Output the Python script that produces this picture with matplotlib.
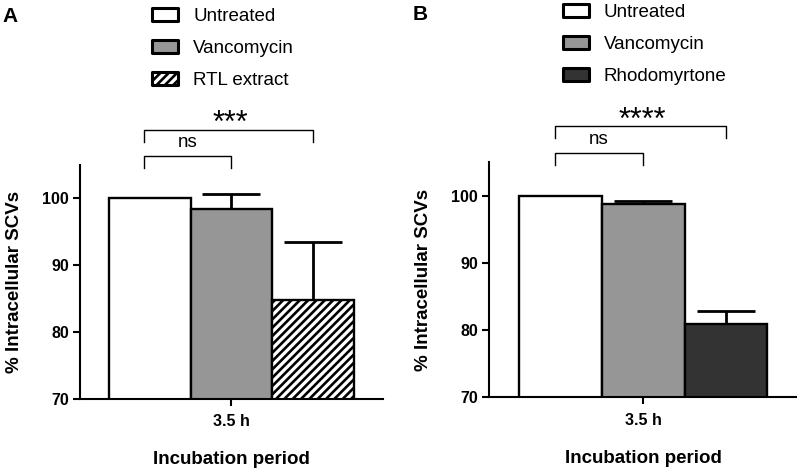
import matplotlib
matplotlib.use("Agg")
import matplotlib.pyplot as plt

plt.rcParams["font.family"] = ["Liberation Sans", "DejaVu Sans"]
plt.rcParams["hatch.linewidth"] = 1.9

# panel A
labels_a = ["Untreated", "Vancomycin", "RTL extract"]
values_a = [100.0, 98.4, 84.8]
errors_a = [0.0, 2.3, 8.7]

# panel B
labels_b = ["Untreated", "Vancomycin", "Rhodomyrtone"]
values_b = [100.0, 98.7, 80.9]
errors_b = [0.0, 0.5, 2.0]

group_label = "3.5 h"
yticks = [70, 80, 90, 100]

colors_a = ["white", "#969696", "white"]
hatches_a = [None, None, "////"]
colors_b = ["white", "#969696", "#333333"]
hatches_b = [None, None, None]

fig = plt.figure(figsize=(7.97, 4.71), dpi=100)
ax_a = fig.add_axes([0.1004, 0.1529, 0.380, 0.4968])
ax_b = fig.add_axes([0.614, 0.1565, 0.386, 0.4996])


def draw_panel(ax, labels, values, errors, colors, hatches, stars, leg_xy):
    xs = [-1, 0, 1]
    handles = []
    for x, v, e, c, h, lab in zip(xs, values, errors, colors, hatches, labels):
        b = ax.bar(x, v, width=1.0, color=c, edgecolor="black",
                   linewidth=1.7, hatch=h, label=lab, zorder=2)
        handles.append(b)
        if e > 0:
            ax.errorbar(x, v, yerr=[[0], [e]], fmt="none", ecolor="black",
                        elinewidth=2, capsize=21, capthick=2, zorder=1)

    ax.set_xlim(-1.86, 1.86)
    ax.set_ylim(70, 105)
    ax.set_yticks(yticks)
    ax.set_xticks([0])
    ax.set_xticklabels([group_label])
    for s in ["top", "right"]:
        ax.spines[s].set_visible(False)
    for s in ["left", "bottom"]:
        ax.spines[s].set_linewidth(1.5)
    ax.tick_params(direction="out", length=5, width=1.5, labelsize=11.5, pad=3)
    ax.tick_params(axis="x", pad=6)
    for t in ax.get_xticklabels() + ax.get_yticklabels():
        t.set_fontweight("bold")

    ax.set_ylabel("% Intracellular SCVs", fontsize=13.5, fontweight="bold")
    ax.set_xlabel("Incubation period", fontsize=13.5, fontweight="bold")
    ax.yaxis.set_label_coords(-0.187, 0.5)
    ax.xaxis.set_label_coords(0.5, -0.222)

    # significance brackets
    left = -1.07
    ax.plot([left, left, 0, 0], [104.6, 106.4, 106.4, 104.6], color="black",
            lw=1, clip_on=False)
    ax.text((left + 0) / 2, 107.7, "ns", ha="center", va="baseline",
            fontsize=13.5)
    ax.plot([left, left, 1, 1], [108.5, 110.3, 110.3, 108.5], color="black",
            lw=1, clip_on=False)
    ax.text((left + 1) / 2 + 0.02, 109.95, stars, ha="center", va="baseline",
            fontsize=22)

    leg = ax.legend(handles=handles, loc="upper left", bbox_to_anchor=leg_xy,
                    bbox_transform=fig.transFigure, frameon=False,
                    fontsize=13.5, borderpad=0, borderaxespad=0,
                    handlelength=1.4, handleheight=0.7, handletextpad=0.8,
                    labelspacing=0.78)
    for p in leg.get_patches():
        p.set_linewidth(2.2)
        p.set_joinstyle("round")


draw_panel(ax_a, labels_a, values_a, errors_a, colors_a, hatches_a, "***",
           (0.1907, 0.983))
draw_panel(ax_b, labels_b, values_b, errors_b, colors_b, hatches_b, "****",
           (0.706, 0.9915))

fig.text(0.003, 1 - 16 / 471, "A", fontsize=15, fontweight="bold",
         ha="left", va="center")
fig.text(413 / 797, 1 - 15 / 471, "B", fontsize=15, fontweight="bold",
         ha="left", va="center")

fig.savefig("out.png", dpi=100)
